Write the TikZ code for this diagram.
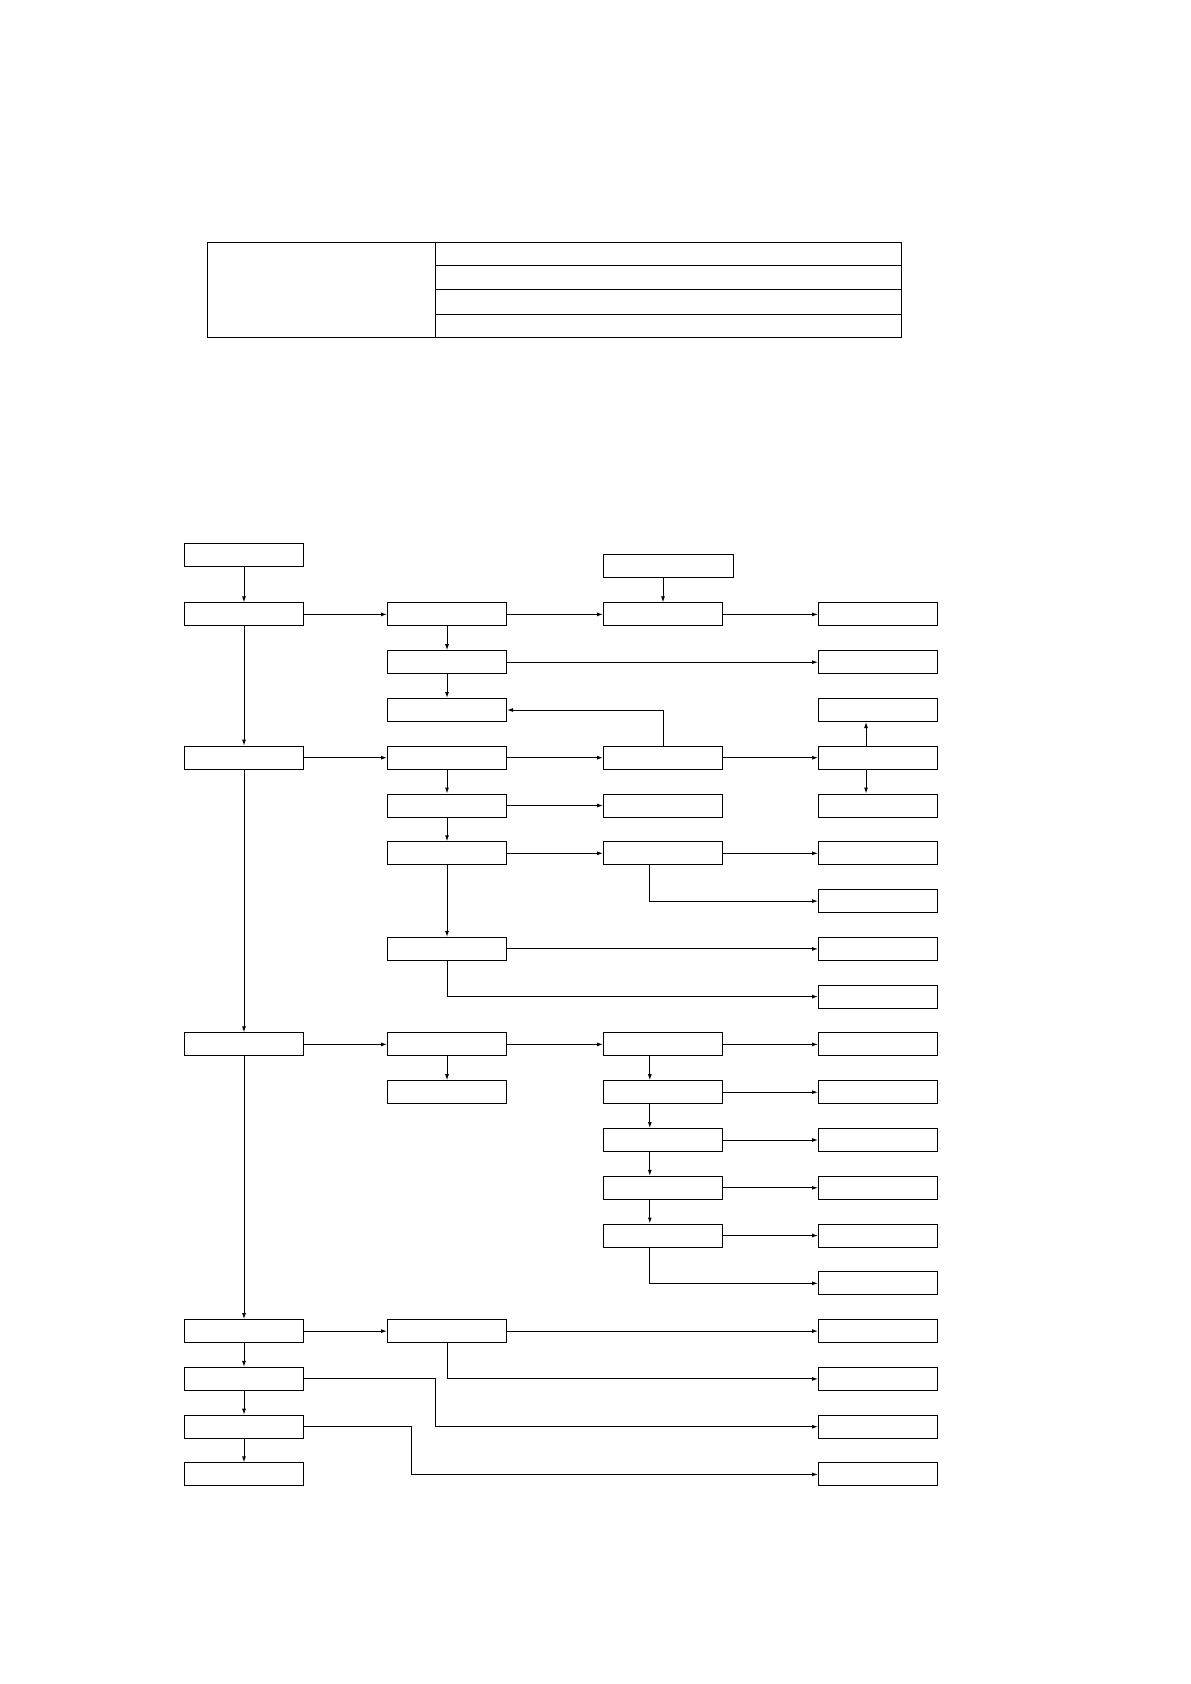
\documentclass[tikz,border=0pt]{standalone}
\usepackage{tikz}
\usetikzlibrary{arrows.meta,positioning,calc}

\begin{document}
\begin{tikzpicture}[
    x=0.5pt, y=-0.5pt,
    box/.style={rectangle, draw, line width=0.5pt, minimum width=59.5pt, minimum height=11.5pt, inner sep=0pt},
    >={Latex[length=3pt,width=2pt]}, line width=0.5pt
]
    \useasboundingbox (0,0) rectangle (1190,1684);

    % table at the top
    \draw (207,243) rectangle (901,338);
    \draw (435,243) -- (435,338);
    \foreach \yy in {266,290,315}
        \draw (435,\yy) -- (901,\yy);

    % first column
    \node[box] (a0) at (244,554.7) {};
    \node[box] (a1) at (244,614.4) {};
    \node[box] (a4) at (244,757.7) {};
    \node[box] (a10) at (244,1044.4) {};
    \node[box] (a16) at (244,1331.1) {};
    \node[box] (a17) at (244,1378.9) {};
    \node[box] (a18) at (244,1426.7) {};
    \node[box] (a19) at (244,1474.4) {};

    % second column
    \node[box] (b1) at (447,614.4) {};
    \node[box] (b2) at (447,662.2) {};
    \node[box] (b3) at (447,710.0) {};
    \node[box] (b4) at (447,757.7) {};
    \node[box] (b5) at (447,805.5) {};
    \node[box] (b6) at (447,853.3) {};
    \node[box] (b8) at (447,948.9) {};
    \node[box] (b10) at (447,1044.4) {};
    \node[box] (b11) at (447,1092.2) {};
    \node[box] (b16) at (447,1331.1) {};

    % third column
    \node[box, minimum width=65pt] (ct) at (668.5,566) {};
    \node[box] (c1) at (663,614.4) {};
    \node[box] (c4) at (663,757.7) {};
    \node[box] (c5) at (663,805.5) {};
    \node[box] (c6) at (663,853.3) {};
    \node[box] (c10) at (663,1044.4) {};
    \node[box] (c11) at (663,1092.2) {};
    \node[box] (c12) at (663,1140.0) {};
    \node[box] (c13) at (663,1187.8) {};
    \node[box] (c14) at (663,1235.5) {};

    % fourth column
    \node[box] (d1) at (878,614.4) {};
    \node[box] (d2) at (878,662.2) {};
    \node[box] (d3) at (878,710.0) {};
    \node[box] (d4) at (878,757.7) {};
    \node[box] (d5) at (878,805.5) {};
    \node[box] (d6) at (878,853.3) {};
    \node[box] (d7) at (878,901.1) {};
    \node[box] (d8) at (878,948.9) {};
    \node[box] (d9) at (878,996.6) {};
    \node[box] (d10) at (878,1044.4) {};
    \node[box] (d11) at (878,1092.2) {};
    \node[box] (d12) at (878,1140.0) {};
    \node[box] (d13) at (878,1187.8) {};
    \node[box] (d14) at (878,1235.5) {};
    \node[box] (d15) at (878,1283.3) {};
    \node[box] (d16) at (878,1331.1) {};
    \node[box] (d17) at (878,1378.9) {};
    \node[box] (d18) at (878,1426.7) {};
    \node[box] (d19) at (878,1474.4) {};

    % main spine
    \draw[->] (a0) -- (a1);
    \draw[->] (a1) -- (a4);
    \draw[->] (a4) -- (a10);
    \draw[->] (a10) -- (a16);
    \draw[->] (a16) -- (a17);
    \draw[->] (a17) -- (a18);
    \draw[->] (a18) -- (a19);

    % first block
    \draw[->] (a1) -- (b1);
    \draw[->] (b1) -- (c1);
    \draw[->] (c1) -- (d1);
    \draw[->] (ct.south -| c1) -- (c1);
    \draw[->] (b1) -- (b2);
    \draw[->] (b2) -- (b3);
    \draw[->] (b2) -- (d2);

    % second block
    \draw[->] (a4) -- (b4);
    \draw[->] (b4) -- (c4);
    \draw[->] (c4) -- (d4);
    \draw[->] (c4.north) |- (b3.east);
    \draw[->] (d4.north -| 866,0) -- (d3.south -| 866,0);
    \draw[->] (d4.south -| 866,0) -- (d5.north -| 866,0);
    \draw[->] (b4) -- (b5);
    \draw[->] (b5) -- (c5);
    \draw[->] (b5) -- (b6);
    \draw[->] (b6) -- (c6);
    \draw[->] (c6) -- (d6);
    \draw[->] (c6.south -| 649.8,0) |- (d7.west);
    \draw[->] (b6) -- (b8);
    \draw[->] (b8) -- (d8);
    \draw[->] (b8.south) |- (d9.west);

    % third block
    \draw[->] (a10) -- (b10);
    \draw[->] (b10) -- (c10);
    \draw[->] (c10) -- (d10);
    \draw[->] (b10) -- (b11);
    \draw[->] (c10.south -| 649.8,0) -- (c11.north -| 649.8,0);
    \draw[->] (c11.south -| 649.8,0) -- (c12.north -| 649.8,0);
    \draw[->] (c12.south -| 649.8,0) -- (c13.north -| 649.8,0);
    \draw[->] (c13.south -| 649.8,0) -- (c14.north -| 649.8,0);
    \draw[->] (c11) -- (d11);
    \draw[->] (c12) -- (d12);
    \draw[->] (c13) -- (d13);
    \draw[->] (c14) -- (d14);
    \draw[->] (c14.south -| 649.8,0) |- (d15.west);

    % last block
    \draw[->] (a16) -- (b16);
    \draw[->] (b16) -- (d16);
    \draw[->] (b16.south) |- (d17.west);
    \draw[->] (a17.east) -- (435,1378.9) |- (d18.west);
    \draw[->] (a18.east) -- (411,1426.7) |- (d19.west);
\end{tikzpicture}
\end{document}
